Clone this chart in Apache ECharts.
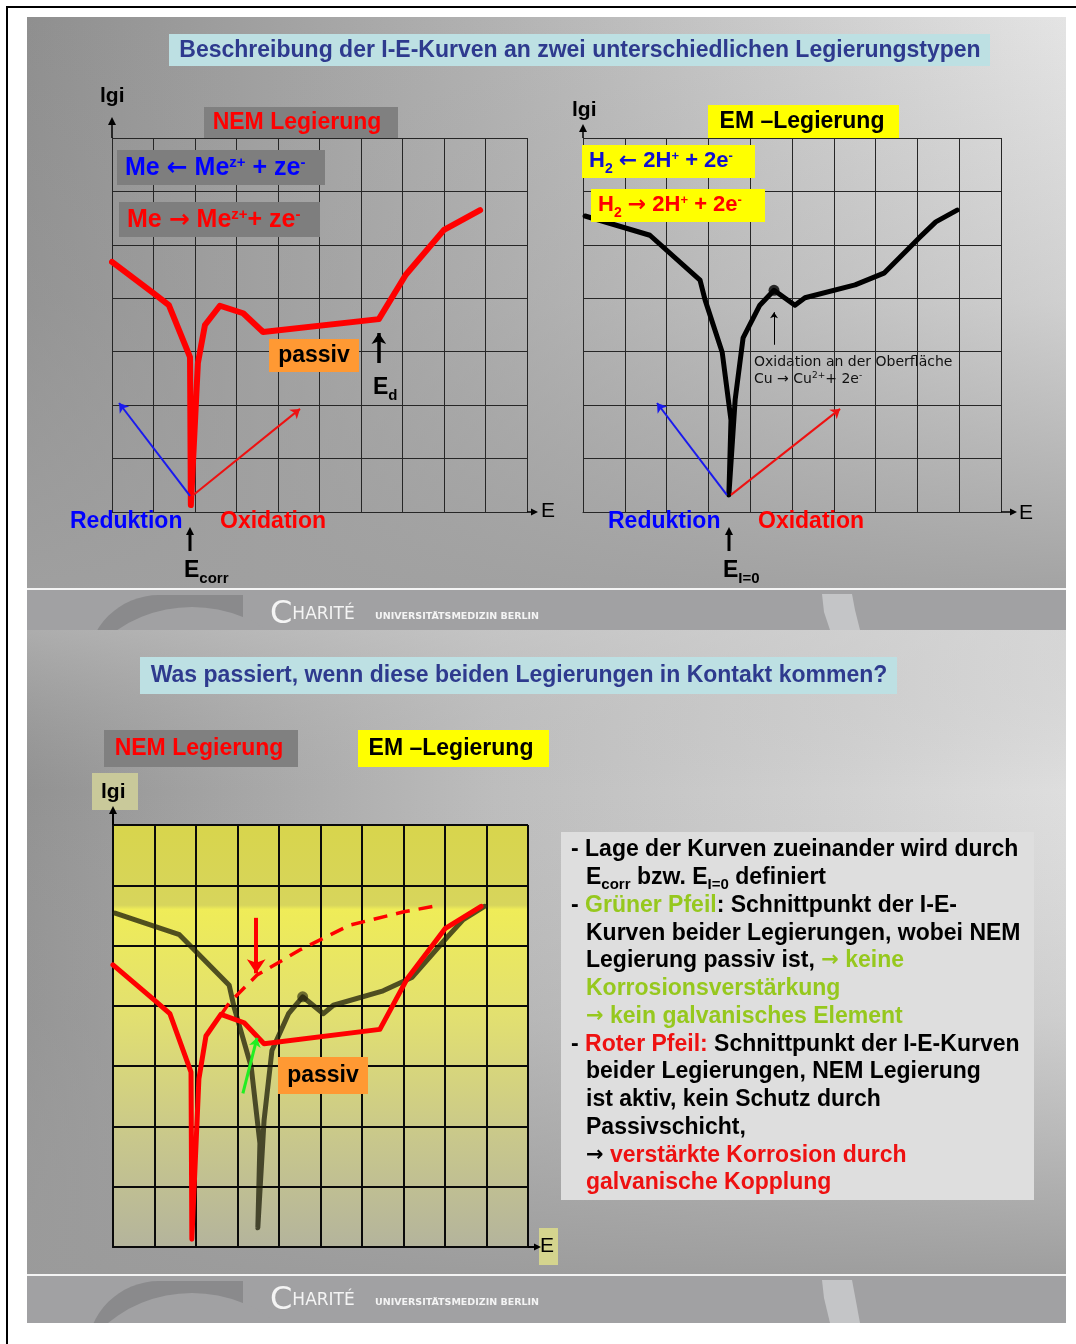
<!DOCTYPE html>
<html lang="de">
<head>
<meta charset="utf-8">
<title>I-E-Kurven</title>
<script src="https://cdn.jsdelivr.net/npm/echarts@6/dist/echarts.min.js"></script>
<style>
    html, body { margin: 0; padding: 0; background: #fff; }
    #main { width: 1076px; height: 1344px; }
</style>
</head>
<body>
<div id="main"></div>
<script>
    // Achsen: E in Rasterspalten (0..10), lgi in Rasterzeilen (0..7)
    var nemE   = [0, 0.99, 1.37, 1.88, 1.90, 2.07, 2.24, 2.60, 3.16, 3.64, 6.43, 7.08, 8.00, 8.87];
    var nemLgi = [4.68, 4.10, 3.87, 2.90, 0.13, 2.79, 3.50, 3.86, 3.72, 3.37, 3.61, 4.44, 5.28, 5.65];

    var emE   = [0.05, 1.60, 2.80, 2.92, 3.33, 3.54, 3.49, 3.64, 3.71, 3.83, 4.23, 4.57, 5.07, 5.31, 6.51, 7.20, 8.04, 8.44, 8.95];
    var emLgi = [5.54, 5.18, 4.34, 3.97, 2.99, 1.72, 0.32, 2.10, 2.53, 3.26, 3.87, 4.15, 3.87, 4.01, 4.25, 4.47, 5.13, 5.43, 5.65];
    var emPeak = 11;   // Punkt "Oxidation an der Oberflaeche"

    // gestrichelte Kurve (Kopplung) im unteren Diagramm
    var dashE   = [2.60, 2.80, 3.47, 4.51, 5.71, 7.01, 7.88];
    var dashLgi = [3.85, 4.05, 4.51, 4.93, 5.34, 5.56, 5.67];

    // Pfeile [start, ende]
    var redNEM  = [[1.88, 0.30], [0.17, 2.04]];
    var oxNEM   = [[1.93, 0.30], [4.53, 1.93]];
    var edNEM   = [[6.43, 2.79], [6.43, 3.35]];
    var redEM   = [[3.44, 0.32], [1.77, 2.04]];
    var oxEM    = [[3.54, 0.32], [6.15, 1.93]];
    var cuEM    = [[4.57, 3.13], [4.57, 3.74]];
    var rotPfeil  = [[3.45, 5.46], [3.45, 4.54]];
    var gruenPfeil = [[3.13, 2.55], [3.47, 3.47]];

    var F = '"Liberation Sans", Arial, sans-serif';
    var FA = '"DejaVu Sans", sans-serif';   // Pfeilzeichen

    function pts(xs, ys) {
        return xs.map(function (x, i) { return [x, ys[i]]; });
    }

    function rect(x, y, w, h, fill, z) {
        return {type: 'rect', z: z == null ? 50 : z, silent: true,
            shape: {x: x, y: y, width: w, height: h}, style: {fill: fill}};
    }

    function txt(x, y, text, size, color, opt) {
        opt = opt || {};
        var st = {
            text: text, fill: color, fontFamily: opt.family || F, fontSize: size,
            fontWeight: opt.weight || 'bold', align: opt.align || 'left', verticalAlign: 'middle'
        };
        if (opt.rich) st.rich = opt.rich;
        return {type: 'text', z: 60, x: x, y: y, silent: true, style: st};
    }

    // hoch- und tiefgestellte Zeichen, Pfeile
    function richSet(size, color, supTop) {
        return {
            b: {fontSize: size, fill: color, fontFamily: F, fontWeight: 'bold', verticalAlign: 'middle'},
            a: {fontSize: size, fill: color, fontFamily: FA, fontWeight: 'bold', verticalAlign: 'middle'},
            sup: {fontSize: Math.round(size * 0.6), fill: color, fontFamily: F, fontWeight: 'bold', verticalAlign: 'top',
                padding: supTop ? [supTop, 0, 0, 0] : [0, 0, 10, 0]},
            sub: {fontSize: Math.round(size * 0.65), fill: color, fontFamily: F, fontWeight: 'bold', verticalAlign: 'bottom', padding: [16, 0, 0, 0]}
        };
    }

    function arrowUp(x, yBottom, yTip, w, color) {
        return [
            {type: 'line', z: 60, silent: true, shape: {x1: x, y1: yBottom, x2: x, y2: yTip + 6}, style: {stroke: color, lineWidth: w}},
            {type: 'polygon', z: 60, silent: true, shape: {points: [[x - 4, yTip + 8], [x + 4, yTip + 8], [x, yTip]]}, style: {fill: color}}
        ];
    }

    function arrowRight(xStart, xTip, y, w, color) {
        return [
            {type: 'line', z: 60, silent: true, shape: {x1: xStart, y1: y, x2: xTip - 5, y2: y}, style: {stroke: color, lineWidth: w}},
            {type: 'polygon', z: 60, silent: true, shape: {points: [[xTip - 7, y - 3.5], [xTip - 7, y + 3.5], [xTip, y]]}, style: {fill: color}}
        ];
    }

    function footer(yLine, yBot) {
        var band = '#a1a1a3';
        var els = [];
        els.push(rect(27, yLine, 1039, 2, '#f4f4f4', -8));
        els.push(rect(27, yLine + 2, 1039, yBot - yLine - 2, band, -9));
        els.push({type: 'rect', z: -8, silent: true,
            shape: {x: 87, y: yLine + 7, width: 156, height: 120, r: [72, 0, 0, 0]}, style: {fill: '#8a8a8c'}});
        els.push({type: 'circle', z: -7, silent: true,
            shape: {cx: 192, cy: yLine + 152, r: 133}, style: {fill: band}});
        els.push({type: 'polygon', z: -7, silent: true,
            shape: {points: [[822, yLine + 6], [852, yLine + 6], [855, yLine + 22], [860, yBot], [830, yBot], [824, yLine + 24]]},
            style: {fill: '#c4c5c7'}});
        els.push({type: 'text', z: 60, x: 270, y: yLine + 27, silent: true, style: {
            text: '{c|C}{h|HARITÉ}', verticalAlign: 'middle',
            rich: {
                c: {fontSize: 32, fill: '#f4f4f4', fontFamily: FA, fontWeight: 'normal', verticalAlign: 'middle'},
                h: {fontSize: 17, fill: '#f4f4f4', fontFamily: FA, fontWeight: 'normal', verticalAlign: 'middle'}
            }
        }});
        els.push(txt(375, yLine + 29, 'UNIVERSITÄTSMEDIZIN BERLIN', 9.5, '#f4f4f4', {family: FA}));
        return els;
    }

    var g = [];

    // Folie 1 Hintergrund
    g.push({type: 'rect', z: -10, silent: true, shape: {x: 27, y: 17, width: 1039, height: 571},
        style: {fill: new echarts.graphic.LinearGradient(0, 0, 1, 0, [
            {offset: 0, color: '#8f8f8f'}, {offset: 0.45, color: '#b2b2b2'}, {offset: 1, color: '#e4e4e4'}])}});
    g.push({type: 'rect', z: -10, silent: true, shape: {x: 27, y: 17, width: 1039, height: 571},
        style: {fill: new echarts.graphic.LinearGradient(0, 0, 0, 1, [
            {offset: 0, color: 'rgba(160,160,160,0)'}, {offset: 0.5, color: 'rgba(160,160,160,0.3)'},
            {offset: 1, color: 'rgba(160,160,160,0.95)'}])}});
    g = g.concat(footer(588, 630));

    // Folie 2 Hintergrund
    g.push({type: 'rect', z: -6, silent: true, shape: {x: 27, y: 630, width: 1039, height: 644},
        style: {fill: new echarts.graphic.LinearGradient(0, 0, 1, 0, [
            {offset: 0, color: '#929292'}, {offset: 0.45, color: '#bdbdbd'}, {offset: 1, color: '#dedede'}])}});
    g.push({type: 'rect', z: -6, silent: true, shape: {x: 27, y: 630, width: 1039, height: 644},
        style: {fill: new echarts.graphic.LinearGradient(0, 0, 0, 1, [
            {offset: 0, color: 'rgba(205,205,205,0.45)'}, {offset: 0.25, color: 'rgba(180,180,180,0)'},
            {offset: 0.6, color: 'rgba(160,160,160,0.25)'}, {offset: 1, color: 'rgba(155,155,155,0.95)'}])}});
    g = g.concat(footer(1274, 1323));
    g.push(rect(0, 1323, 1076, 21, '#ffffff', -5));

    // Rahmen
    g.push(rect(7, 6, 1069, 2, '#000000', 80));
    g.push(rect(6, 6, 2, 1338, '#000000', 80));

    // Titel
    g.push(rect(169, 34, 821, 32, '#bde0e3'));
    g.push(txt(580, 51, 'Beschreibung der I-E-Kurven an zwei unterschiedlichen Legierungstypen', 23, '#2e3a8e', {align: 'center'}));
    g.push(rect(140, 657, 757, 37, '#bde0e3'));
    g.push(txt(519, 676, 'Was passiert, wenn diese beiden Legierungen in Kontakt kommen?', 23, '#2e3a8e', {align: 'center'}));

    // Diagramm 1: NEM
    var rB = richSet(25, '#0000ff'), rR = richSet(25, '#ff0000'), rK = richSet(23, '#000000');
    g.push(txt(100, 96, 'lgi', 21, '#000'));
    g.push(rect(204, 107, 194, 31, '#808080'));
    g.push(txt(297, 123, 'NEM Legierung', 23, '#ff0000', {align: 'center'}));
    g.push(rect(117, 150, 208, 35, '#7e7e7e'));
    g.push(txt(125, 168, '{b|Me }{a|←}{b| Me}{sup|z+}{b| + ze}{sup|-}', 25, '#0000ff', {rich: rB}));
    g.push(rect(119, 202, 201, 35, '#7e7e7e'));
    g.push(txt(127, 220, '{b|Me }{a|→}{b| Me}{sup|z+}{b|+ ze}{sup|-}', 25, '#ff0000', {rich: rR}));
    g.push(rect(269, 339, 90, 33, '#ff9933'));
    g.push(txt(314, 356, 'passiv', 23, '#000', {align: 'center'}));
    g.push(txt(373, 388, '{b|E}{sub|d}', 23, '#000', {rich: rK}));
    g.push(txt(70, 522, 'Reduktion', 23, '#0000ff'));
    g.push(txt(220, 522, 'Oxidation', 23, '#ff0000'));
    g = g.concat(arrowUp(190, 551, 527, 3, '#000'));
    g.push(txt(184, 571, '{b|E}{sub|corr}', 23, '#000', {rich: rK}));
    g = g.concat(arrowUp(112, 138, 117, 1.5, '#000'));
    g = g.concat(arrowRight(527, 538, 512, 1.5, '#000'));
    g.push(txt(541, 511, 'E', 21, '#000', {weight: 'normal'}));

    // Diagramm 2: EM
    var yB = richSet(22, '#1010d0', 4), yR = richSet(22, '#ff0000', 4);
    g.push(txt(572, 110, 'lgi', 21, '#000'));
    g.push(rect(708, 105, 191, 33, '#ffff00'));
    g.push(txt(802, 122, 'EM –Legierung', 23, '#000', {align: 'center'}));
    g.push(rect(582, 145, 173, 33, '#ffff00'));
    g.push(txt(589, 161, '{b|H}{sub|2}{b| }{a|←}{b| 2H}{sup|+}{b| + 2e}{sup|-}', 22, '#1010d0', {rich: yB}));
    g.push(rect(591, 189, 174, 33, '#ffff00'));
    g.push(txt(598, 205, '{b|H}{sub|2}{b| }{a|→}{b| 2H}{sup|+}{b| + 2e}{sup|-}', 22, '#ff0000', {rich: yR}));
    g.push(txt(754, 362, 'Oxidation an der Oberfläche', 14, '#111', {weight: 'normal', family: FA}));
    g.push(txt(754, 379, '{n|Cu }{n|→}{n| Cu}{s|2+}{n|+ 2e}{s|-}', 14, '#111', {rich: {
        n: {fontSize: 14, fill: '#111', fontFamily: FA, verticalAlign: 'middle'},
        s: {fontSize: 9, fill: '#111', fontFamily: FA, verticalAlign: 'top', padding: [0, 0, 6, 0]}
    }}));
    g.push(txt(608, 522, 'Reduktion', 23, '#0000ff'));
    g.push(txt(758, 522, 'Oxidation', 23, '#ff0000'));
    g = g.concat(arrowUp(729, 551, 527, 3, '#000'));
    g.push(txt(723, 571, '{b|E}{sub|I=0}', 23, '#000', {rich: rK}));
    g = g.concat(arrowUp(583, 138, 124, 1.5, '#000'));
    g = g.concat(arrowRight(1001, 1017, 512, 1.5, '#000'));
    g.push(txt(1019, 513, 'E', 21, '#000', {weight: 'normal'}));

    // Diagramm 3: Kontakt
    g.push(rect(104, 730, 194, 37, '#808080'));
    g.push(txt(199, 749, 'NEM Legierung', 23, '#ff0000', {align: 'center'}));
    g.push(rect(358, 730, 191, 37, '#ffff00'));
    g.push(txt(451, 749, 'EM –Legierung', 23, '#000', {align: 'center'}));
    g.push(rect(92, 773, 46, 37, '#c9c99a'));
    g.push(txt(101, 792, 'lgi', 21, '#000'));
    g.push({type: 'rect', z: -4, silent: true, shape: {x: 113, y: 825, width: 415, height: 422},
        style: {fill: new echarts.graphic.LinearGradient(0, 0, 0, 1, [
            {offset: 0, color: '#d8d54c'}, {offset: 0.19, color: '#d7d55c'}, {offset: 0.2, color: '#efec58'},
            {offset: 0.45, color: '#e2e070'}, {offset: 0.75, color: '#c8c78c'}, {offset: 1, color: '#b4b49c'}])}});
    g.push(rect(278, 1057, 90, 37, '#ff9933'));
    g.push(txt(323, 1076, 'passiv', 23, '#000', {align: 'center'}));
    g = g.concat(arrowUp(113, 825, 806, 2, '#000'));
    g = g.concat(arrowRight(528, 541, 1247, 2, '#000'));
    g.push(rect(539, 1228, 19, 37, '#d4d48e'));
    g.push(txt(540, 1246, 'E', 21, '#000', {weight: 'normal'}));

    // Erklaerung
    function rs(color, size) {
        return {fontSize: size || 23, fill: color, fontFamily: F, fontWeight: 'bold', verticalAlign: 'middle'};
    }
    var rt = {
        b: rs('#000'), g: rs('#96c81e'), r: rs('#ee1111'),
        ab: Object.assign(rs('#000', 21), {fontFamily: FA}),
        ag: Object.assign(rs('#96c81e', 21), {fontFamily: FA}),
        s: {fontSize: 15, fill: '#000', fontFamily: F, fontWeight: 'bold', verticalAlign: 'bottom', padding: [14, 0, 0, 0]}
    };
    g.push(rect(561, 832, 473, 368, '#dedede'));
    var lines = [
        [571, '{b|- Lage der Kurven zueinander wird durch}'],
        [586, '{b|E}{s|corr}{b| bzw. E}{s|I=0}{b| definiert}'],
        [571, '{b|- }{g|Grüner Pfeil}{b|: Schnittpunkt der I-E-}'],
        [586, '{b|Kurven beider Legierungen, wobei NEM}'],
        [586, '{b|Legierung passiv ist, }{ag|→}{g| keine}'],
        [586, '{g|Korrosionsverstärkung}'],
        [586, '{ag|→}{g| kein galvanisches Element}'],
        [571, '{b|- }{r|Roter Pfeil:}{b| Schnittpunkt der I-E-Kurven}'],
        [586, '{b|beider Legierungen, NEM Legierung}'],
        [586, '{b|ist aktiv, kein Schutz durch}'],
        [586, '{b|Passivschicht,}'],
        [586, '{ab|→}{r| verstärkte Korrosion durch}'],
        [586, '{r|galvanische Kopplung}']
    ];
    lines.forEach(function (l, i) {
        g.push(txt(l[0], 850 + i * 27.75, l[1], 23, '#000', {rich: rt}));
    });

    function axes(idx, col, w) {
        var common = {
            gridIndex: idx, type: 'value', min: 0, interval: 1,
            axisLabel: {show: false}, axisTick: {show: false},
            axisLine: {show: true, lineStyle: {color: col, width: w}},
            splitLine: {show: true, showMinLine: true, showMaxLine: true, lineStyle: {color: col, width: w}}
        };
        return {
            x: Object.assign({max: 10}, common),
            y: Object.assign({max: 7}, common)
        };
    }
    var a0 = axes(0, '#262626', 1), a1 = axes(1, '#262626', 1), a2 = axes(2, '#0a0a0a', 2);

    function arrowSeries(idx, coords, color, width, size) {
        return {
            type: 'lines', coordinateSystem: 'cartesian2d', xAxisIndex: idx, yAxisIndex: idx,
            symbol: ['none', 'arrow'], symbolSize: size, silent: true, z: 5,
            lineStyle: {color: color, width: width, opacity: 1},
            data: [{coords: coords}]
        };
    }

    function curve(idx, xs, ys, color, width, z, extra) {
        return Object.assign({
            type: 'line', xAxisIndex: idx, yAxisIndex: idx, data: pts(xs, ys),
            symbol: 'none', showSymbol: false, silent: true, z: z,
            lineStyle: {color: color, width: width, cap: 'round', join: 'round'}
        }, extra || {});
    }

    var emDark = 'rgba(32,32,10,0.76)';

    var option = {
        animation: false,
        backgroundColor: '#ffffff',
        graphic: {elements: g},
        grid: [
            {left: 112, top: 138, width: 415, height: 374, containLabel: false, outerBoundsMode: 'none'},
            {left: 583, top: 138, width: 418, height: 374, containLabel: false, outerBoundsMode: 'none'},
            {left: 113, top: 825, width: 415, height: 422, containLabel: false, outerBoundsMode: 'none'}
        ],
        xAxis: [a0.x, a1.x, a2.x],
        yAxis: [a0.y, a1.y, a2.y],
        series: [
            curve(0, nemE, nemLgi, '#ff0000', 6, 4),
            arrowSeries(0, redNEM, '#1a1aee', 2, 9),
            arrowSeries(0, oxNEM, '#ee1111', 2, 9),
            arrowSeries(0, edNEM, '#000000', 3.5, 11),

            curve(1, emE, emLgi, '#000000', 5, 4),
            {type: 'scatter', xAxisIndex: 1, yAxisIndex: 1, silent: true, z: 4, symbolSize: 11,
                itemStyle: {color: '#000'}, data: [[emE[emPeak], emLgi[emPeak]]]},
            arrowSeries(1, redEM, '#1a1aee', 2, 9),
            arrowSeries(1, oxEM, '#ee1111', 2, 9),
            arrowSeries(1, cuEM, '#000000', 1, 6),

            curve(2, emE, emLgi, emDark, 5, 3),
            {type: 'scatter', xAxisIndex: 2, yAxisIndex: 2, silent: true, z: 3, symbolSize: 11,
                itemStyle: {color: emDark}, data: [[emE[emPeak], emLgi[emPeak]]]},
            curve(2, nemE, nemLgi, '#ff0000', 5, 4),
            curve(2, dashE, dashLgi, '#ff0000', 3.5, 4, {
                lineStyle: {color: '#ff0000', width: 3.5, type: [14, 9]}}),
            arrowSeries(2, rotPfeil, '#ff0000', 4, 14),
            arrowSeries(2, gruenPfeil, '#22ee22', 3, 9)
        ]
    };

    var chart = echarts.init(document.getElementById('main'));
    chart.setOption(option);
</script>
</body>
</html>
